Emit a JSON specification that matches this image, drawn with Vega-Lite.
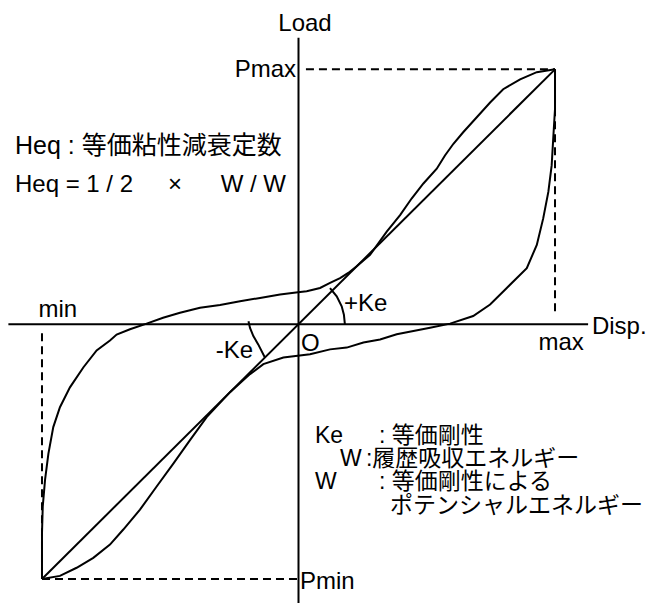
{
  "$schema": "https://vega.github.io/schema/vega-lite/v6.json",
  "width": 668,
  "height": 607,
  "autosize": {"type": "fit", "contains": "padding"},
  "padding": 0,
  "background": "white",
  "config": {"view": {"stroke": null}},
  "datasets": {
    "solid": [
      {"id": "hAxis", "i": 0, "x": -113.1, "y": 0},
      {"id": "hAxis", "i": 1, "x": 112.9, "y": 0},
      {"id": "vAxis", "i": 0, "x": 0, "y": 112.4},
      {"id": "vAxis", "i": 1, "x": 0, "y": -109.43},
      {"id": "diag", "i": 0, "x": -100, "y": -100},
      {"id": "diag", "i": 1, "x": 100, "y": 100},
      {"id": "load", "i": 0, "x": -100, "y": -100},
      {"id": "load", "i": 1, "x": -93.0, "y": -98.8},
      {"id": "load", "i": 2, "x": -86.5, "y": -95.6},
      {"id": "load", "i": 3, "x": -80.0, "y": -91.7},
      {"id": "load", "i": 4, "x": -73.5, "y": -86.5},
      {"id": "load", "i": 5, "x": -68.3, "y": -80.6},
      {"id": "load", "i": 6, "x": -61.8, "y": -72.8},
      {"id": "load", "i": 7, "x": -55.3, "y": -63.7},
      {"id": "load", "i": 8, "x": -48.8, "y": -54.7},
      {"id": "load", "i": 9, "x": -42.3, "y": -45.5},
      {"id": "load", "i": 10, "x": -35.8, "y": -36.5},
      {"id": "load", "i": 11, "x": -26.7, "y": -26.7},
      {"id": "load", "i": 12, "x": -18.9, "y": -19.6},
      {"id": "load", "i": 13, "x": -13.7, "y": -15.7},
      {"id": "load", "i": 14, "x": -5.9, "y": -13.1},
      {"id": "load", "i": 15, "x": 4.5, "y": -11.8},
      {"id": "load", "i": 16, "x": 12.3, "y": -9.9},
      {"id": "load", "i": 17, "x": 18.8, "y": -9.2},
      {"id": "load", "i": 18, "x": 25.3, "y": -7.2},
      {"id": "load", "i": 19, "x": 31.8, "y": -6.0},
      {"id": "load", "i": 20, "x": 38.3, "y": -4.0},
      {"id": "load", "i": 21, "x": 51.3, "y": -1.4},
      {"id": "load", "i": 22, "x": 59.1, "y": 0.2},
      {"id": "load", "i": 23, "x": 68.1, "y": 3.2},
      {"id": "load", "i": 24, "x": 74.7, "y": 7.7},
      {"id": "load", "i": 25, "x": 81.2, "y": 14.2},
      {"id": "load", "i": 26, "x": 89.0, "y": 22.0},
      {"id": "load", "i": 27, "x": 92.9, "y": 31.1},
      {"id": "load", "i": 28, "x": 95.4, "y": 41.5},
      {"id": "load", "i": 29, "x": 97.4, "y": 51.9},
      {"id": "load", "i": 30, "x": 98.7, "y": 62.3},
      {"id": "load", "i": 31, "x": 99.3, "y": 72.7},
      {"id": "load", "i": 32, "x": 100, "y": 84.4},
      {"id": "load", "i": 33, "x": 100, "y": 100},
      {"id": "unload", "i": 0, "x": 100, "y": 100},
      {"id": "unload", "i": 1, "x": 92.9, "y": 98.9},
      {"id": "unload", "i": 2, "x": 86.4, "y": 96.1},
      {"id": "unload", "i": 3, "x": 79.8, "y": 92.2},
      {"id": "unload", "i": 4, "x": 74.7, "y": 87.0},
      {"id": "unload", "i": 5, "x": 69.5, "y": 81.2},
      {"id": "unload", "i": 6, "x": 64.2, "y": 75.3},
      {"id": "unload", "i": 7, "x": 60.4, "y": 70.8},
      {"id": "unload", "i": 8, "x": 57.1, "y": 66.2},
      {"id": "unload", "i": 9, "x": 53.9, "y": 61.0},
      {"id": "unload", "i": 10, "x": 48.7, "y": 55.2},
      {"id": "unload", "i": 11, "x": 44.1, "y": 49.3},
      {"id": "unload", "i": 12, "x": 39.6, "y": 42.8},
      {"id": "unload", "i": 13, "x": 34.4, "y": 36.3},
      {"id": "unload", "i": 14, "x": 27.9, "y": 27.2},
      {"id": "unload", "i": 15, "x": 22.7, "y": 22.7},
      {"id": "unload", "i": 16, "x": 19.4, "y": 20.1},
      {"id": "unload", "i": 17, "x": 16.2, "y": 18.1},
      {"id": "unload", "i": 18, "x": 12.3, "y": 16.2},
      {"id": "unload", "i": 19, "x": 8.4, "y": 14.2},
      {"id": "unload", "i": 20, "x": 3.2, "y": 12.9},
      {"id": "unload", "i": 21, "x": -0.2, "y": 12.5},
      {"id": "unload", "i": 22, "x": -7.2, "y": 11.6},
      {"id": "unload", "i": 23, "x": -15.0, "y": 10.3},
      {"id": "unload", "i": 24, "x": -22.8, "y": 9.0},
      {"id": "unload", "i": 25, "x": -30.6, "y": 7.5},
      {"id": "unload", "i": 26, "x": -38.4, "y": 6.4},
      {"id": "unload", "i": 27, "x": -46.2, "y": 4.5},
      {"id": "unload", "i": 28, "x": -52.8, "y": 2.5},
      {"id": "unload", "i": 29, "x": -59.2, "y": 0.2},
      {"id": "unload", "i": 30, "x": -65.7, "y": -2.0},
      {"id": "unload", "i": 31, "x": -70.9, "y": -4.1},
      {"id": "unload", "i": 32, "x": -73.5, "y": -6.4},
      {"id": "unload", "i": 33, "x": -78.7, "y": -10.3},
      {"id": "unload", "i": 34, "x": -83.9, "y": -17.0},
      {"id": "unload", "i": 35, "x": -89.1, "y": -24.8},
      {"id": "unload", "i": 36, "x": -93.0, "y": -32.6},
      {"id": "unload", "i": 37, "x": -95.6, "y": -40.4},
      {"id": "unload", "i": 38, "x": -97.5, "y": -50.8},
      {"id": "unload", "i": 39, "x": -98.8, "y": -61.0},
      {"id": "unload", "i": 40, "x": -99.7, "y": -71.5},
      {"id": "unload", "i": 41, "x": -100, "y": -82.0},
      {"id": "unload", "i": 42, "x": -100, "y": -92.2},
      {"id": "unload", "i": 43, "x": -100, "y": -100},
      {"id": "arcPlus", "i": 0, "x": 12.28, "y": 14.15},
      {"id": "arcPlus", "i": 1, "x": 14.9, "y": 10.9},
      {"id": "arcPlus", "i": 2, "x": 16.84, "y": 7.0},
      {"id": "arcPlus", "i": 3, "x": 17.7, "y": 3.7},
      {"id": "arcPlus", "i": 4, "x": 18.1, "y": -0.16},
      {"id": "arcMinus", "i": 0, "x": -19.5, "y": 1.17},
      {"id": "arcMinus", "i": 1, "x": -18.9, "y": -1.5},
      {"id": "arcMinus", "i": 2, "x": -17.6, "y": -4.7},
      {"id": "arcMinus", "i": 3, "x": -15.7, "y": -7.95},
      {"id": "arcMinus", "i": 4, "x": -13.1, "y": -13.1}
    ],
    "dashed": [
      {"id": "pmax", "i": 0, "x": 2.9, "y": 100},
      {"id": "pmax", "i": 1, "x": 100, "y": 100},
      {"id": "dmax", "i": 0, "x": 100, "y": 100},
      {"id": "dmax", "i": 1, "x": 100, "y": 3.2},
      {"id": "dmin", "i": 0, "x": -100, "y": -3.6},
      {"id": "dmin", "i": 1, "x": -100, "y": -100},
      {"id": "pmin", "i": 0, "x": -100, "y": -100},
      {"id": "pmin", "i": 1, "x": 0, "y": -100}
    ],
    "labelsLeft": [
      {"t": "Heq = 1 / 2", "x": -110.53, "y": 51.97},
      {"t": "min", "x": -101.4, "y": 2.73},
      {"t": "max", "x": 93.57, "y": -10.29},
      {"t": "Disp.", "x": 114.4, "y": -3.78},
      {"t": "+Ke", "x": 17.74, "y": 5.19},
      {"t": "O", "x": 0.97, "y": -10.41},
      {"t": "Pmin", "x": 0.58, "y": -103.98}
    ],
    "legendLatin": [
      {"t": "Ke", "x": 6.43, "y": -46.47},
      {"t": "W", "x": 16.18, "y": -55.67},
      {"t": "W", "x": 6.43, "y": -64.87}
    ],
    "labelsRight": [
      {"t": "Pmax", "x": -0.97, "y": 97.08},
      {"t": "-Ke", "x": -17.74, "y": -13.41},
      {"t": "W / W", "x": -4.87, "y": 51.97}
    ],
    "labelsCenter": [
      {"t": "Load", "x": 2.53, "y": 115.24},
      {"t": "×", "x": -48.15, "y": 51.97}
    ],
    "title": [
      {"t": "Heq : 等価粘性減衰定数", "x": -110.53, "y": 66.78}
    ],
    "notes": [
      {"t": ": 等価剛性", "x": 31.38, "y": -46.47},
      {"t": ":履歴吸収エネルギー", "x": 26.3, "y": -55.67},
      {"t": ": 等価剛性による", "x": 31.38, "y": -64.87},
      {"t": "ポテンシャルエネルギー", "x": 35.67, "y": -74.07}
    ]
  },
  "encoding": {
    "x": {"field": "x", "type": "quantitative", "scale": {"domain": [-116.37, 144.05], "nice": false, "zero": false}, "axis": null},
    "y": {"field": "y", "type": "quantitative", "scale": {"domain": [-109.43, 127.21], "nice": false, "zero": false}, "axis": null}
  },
  "layer": [
    {
      "data": {"name": "solid"},
      "mark": {"type": "line", "color": "black", "strokeWidth": 2},
      "encoding": {
        "detail": {"field": "id", "type": "nominal"},
        "order": {"field": "i", "type": "quantitative"}
      }
    },
    {
      "data": {"name": "dashed"},
      "mark": {"type": "line", "color": "black", "strokeWidth": 2, "strokeDash": [8, 5]},
      "encoding": {
        "detail": {"field": "id", "type": "nominal"},
        "order": {"field": "i", "type": "quantitative"}
      }
    },
    {
      "data": {"name": "labelsLeft"},
      "mark": {"type": "text", "align": "left", "baseline": "alphabetic", "font": "Liberation Sans", "fontSize": 24, "color": "black"},
      "encoding": {"text": {"field": "t", "type": "nominal"}}
    },
    {
      "data": {"name": "legendLatin"},
      "mark": {"type": "text", "align": "left", "baseline": "alphabetic", "font": "Liberation Sans", "fontSize": 23, "color": "black"},
      "encoding": {"text": {"field": "t", "type": "nominal"}}
    },
    {
      "data": {"name": "labelsRight"},
      "mark": {"type": "text", "align": "right", "baseline": "alphabetic", "font": "Liberation Sans", "fontSize": 24, "color": "black"},
      "encoding": {"text": {"field": "t", "type": "nominal"}}
    },
    {
      "data": {"name": "labelsCenter"},
      "mark": {"type": "text", "align": "center", "baseline": "alphabetic", "font": "Liberation Sans", "fontSize": 24, "color": "black"},
      "encoding": {"text": {"field": "t", "type": "nominal"}}
    },
    {
      "data": {"name": "title"},
      "mark": {"type": "text", "align": "left", "baseline": "alphabetic", "font": "Liberation Sans, Noto Sans CJK JP", "fontSize": 25, "color": "black"},
      "encoding": {"text": {"field": "t", "type": "nominal"}}
    },
    {
      "data": {"name": "notes"},
      "mark": {"type": "text", "align": "left", "baseline": "alphabetic", "font": "Liberation Sans, Noto Sans CJK JP", "fontSize": 23, "color": "black"},
      "encoding": {"text": {"field": "t", "type": "nominal"}}
    }
  ]
}
